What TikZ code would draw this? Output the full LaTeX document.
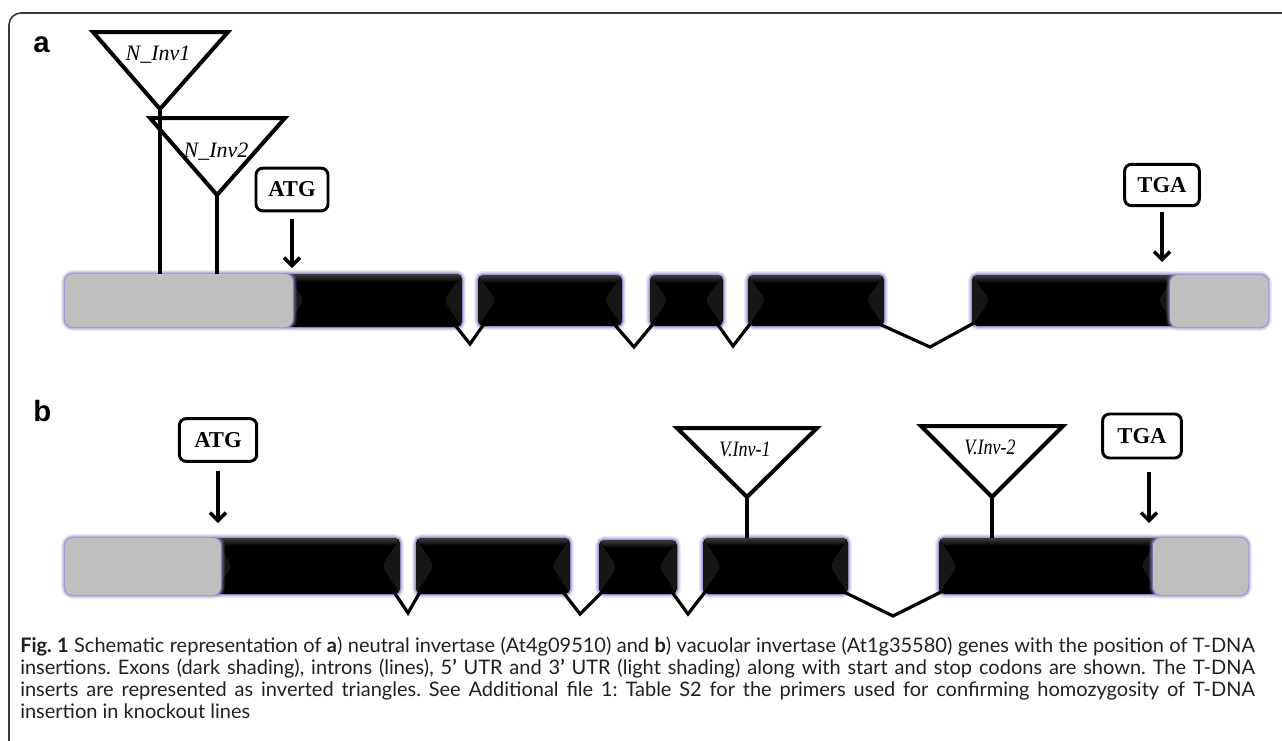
\documentclass[tikz,border=0pt]{standalone}
\usepackage{fontspec}
\setmainfont{Liberation Serif}
\newfontfamily\capfont{Lato}
\newfontfamily\panelfont{Liberation Sans}
\usetikzlibrary{arrows.meta,calc,fit}

\definecolor{utrgray}{HTML}{BFBFBF}
\definecolor{glow}{HTML}{9680CC}
\definecolor{facet}{HTML}{161616}
\definecolor{topsheen}{HTML}{3C3C3C}
\definecolor{framecol}{HTML}{3A3A3A}
\definecolor{captext}{HTML}{231F20}

\tikzset{
  glowing/.style={
    preaction={draw=glow, draw opacity=0.18, line width=6pt},
    preaction={draw=glow, draw opacity=0.3, line width=4pt},
    preaction={draw=glow, draw opacity=0.7, line width=2.2pt}},
  exon/.style={inner sep=0pt, outer sep=0pt, fill=black, rounded corners=4pt, glowing,
    path picture={
      \fill[facet] (path picture bounding box.north west)
        -- ($(path picture bounding box.west)+(18,0)$)
        -- (path picture bounding box.south west) -- cycle;
      \fill[facet] (path picture bounding box.north east)
        -- ($(path picture bounding box.east)+(-18,0)$)
        -- (path picture bounding box.south east) -- cycle;
      \shade[top color=topsheen, bottom color=black]
        (path picture bounding box.north west)
        -- (path picture bounding box.north east)
        -- ($(path picture bounding box.north east)+(-5,8)$)
        -- ($(path picture bounding box.north west)+(5,8)$) -- cycle;
    }},
  utr/.style={inner sep=0pt, outer sep=0pt, fill=utrgray, rounded corners=6pt, glowing},
  intron/.style={line width=2.4pt, line join=miter},
  insert/.style={draw, fill=white, line width=3pt, line join=miter},
  stem/.style={line width=3pt},
  insertlabel/.style={inner sep=0pt, font=\itshape\fontsize{16.5}{18}\selectfont},
  codon/.style={draw, line width=2.2pt, rounded corners=5pt, fill=white,
    inner sep=0pt, font=\bfseries\fontsize{17}{20}\selectfont},
  arr/.style={line width=2.6pt, -{Straight Barb[length=6pt,width=12pt]}},
  panel/.style={inner sep=0pt, anchor=base west,
    font=\panelfont\bfseries\fontsize{22}{26}\selectfont},
  capline/.style={inner sep=0pt, anchor=base west, text=captext,
    font=\capfont\fontsize{15}{18}\selectfont\frenchspacing},
  framestyle/.style={draw=framecol, line width=1.2pt, rounded corners=9pt}
}

\begin{document}
\begin{tikzpicture}[x=0.75pt,y=-0.75pt]
\path[use as bounding box] (0,0) rectangle (1282,740);

% outer frame
\draw[framestyle] (1290,13) -- (9,13) -- (9,750);

% panel letters
\node[panel] (pa) at (33,52) {a};
\node[panel] (pb) at (33,421) {b};

%---------------- gene a ----------------
\node[exon, fit={(286,274) (462,327)}] (a1) {};
\node[exon, fit={(478,275) (622,326)}] (a2) {};
\node[exon, fit={(650,275) (723,326)}] (a3) {};
\node[exon, fit={(748,275) (884,326)}] (a4) {};
\node[exon, fit={(972,275) (1176,326)}] (a5) {};
\node[utr, fit={(65,274) (293,327)}] (a5u) {};
\node[utr, fit={(1170,275) (1268,327)}] (a3u) {};

\coordinate (va1) at (470,344);
\coordinate (va2) at (634,347);
\coordinate (va3) at (733,346);
\coordinate (va4) at (930,347);
\draw[intron] ($(a1.south east)+(-7,-2)$) -- (va1) -- ($(a2.south west)+(6,-2)$);
\draw[intron] ($(a2.south east)+(-8,-2)$) -- (va2) -- ($(a3.south west)+(3,-2)$);
\draw[intron] ($(a3.south east)+(-5,-1)$) -- (va3) -- ($(a4.south west)+(2,-2)$);
\draw[intron] ($(a4.south east)+(-7,-3)$) -- (va4) -- ($(a5.south west)+(2,-3)$);

% T-DNA inserts in gene a
\draw[insert] (93,32) -- (228,32) -- (160,109) -- cycle;
\coordinate (ta1) at (160,109);
\draw[insert] (150,118) -- (285,118) -- (217,195) -- cycle;
\coordinate (ta2) at (217,195);
\draw[stem] (ta1) -- (ta1 |- a5u.north);
\draw[stem] (ta2) -- (ta2 |- a5u.north);
\node[insertlabel] (la1) at (158,55) {N\_Inv1};
\node[insertlabel] (la2) at (216,152) {N\_Inv2};

% start and stop codons of gene a
\node[codon, minimum width=54pt, minimum height=32pt] (atga) at (292,189.5) {ATG};
\coordinate (atgaend) at (292,268);
\draw[arr] ([yshift=-5pt]atga.south) -- (atgaend);
\node[codon, minimum width=56pt, minimum height=31pt] (tgaa) at (1162,185) {TGA};
\coordinate (tgaaend) at (1162,262);
\draw[arr] ([yshift=-4pt]tgaa.south) -- (tgaaend);

%---------------- gene b ----------------
\node[exon, fit={(214,538) (400,594)}] (b1) {};
\node[exon, fit={(416,538) (570,594)}] (b2) {};
\node[exon, fit={(599,540) (677,594)}] (b3) {};
\node[exon, fit={(703,538) (848,594)}] (b4) {};
\node[exon, fit={(939,538) (1159,594)}] (b5) {};
\node[utr, fit={(65,538) (221,595)}] (b5u) {};
\node[utr, fit={(1153,538) (1248,595)}] (b3u) {};

\coordinate (vb1) at (408,613);
\coordinate (vb2) at (580,614);
\coordinate (vb3) at (688,614);
\coordinate (vb4) at (893,616);
\draw[intron] ($(b1.south east)+(-6,-2)$) -- (vb1) -- ($(b2.south west)+(4,-2)$);
\draw[intron] ($(b2.south east)+(-7,-2)$) -- (vb2) -- ($(b3.south west)+(3,-2)$);
\draw[intron] ($(b3.south east)+(-5,-2)$) -- (vb3) -- ($(b4.south west)+(2,-2)$);
\draw[intron] ($(b4.south east)+(-4,-2)$) -- (vb4) -- ($(b5.south west)+(2,-2)$);

% T-DNA inserts in gene b
\draw[insert] (677,428) -- (817,428) -- (747,497) -- cycle;
\coordinate (tb1) at (747,497);
\draw[insert] (921,426) -- (1063,426) -- (992,497) -- cycle;
\coordinate (tb2) at (992,497);
\draw[stem, line width=2.4pt] (tb1) -- (tb1 |- b4.north);
\draw[stem, line width=2.4pt] (tb2) -- (tb2 |- b5.north);
\node[insertlabel] (lb1) at (745,449) {\scalebox{0.82}[1]{V.Inv-1}};
\node[insertlabel] (lb2) at (990,447) {\scalebox{0.82}[1]{V.Inv-2}};

% start and stop codons of gene b
\node[codon, minimum width=58pt, minimum height=32pt] (atgb) at (218,440) {ATG};
\coordinate (atgbend) at (218,523);
\draw[arr] ([yshift=-6pt]atgb.south) -- (atgbend);
\node[codon, minimum width=59pt, minimum height=33pt] (tgab) at (1142,436) {TGA};
\coordinate (tgabend) at (1149,523);
\draw[arr] (tgabend |- 0,472) -- (tgabend);

%---------------- caption ----------------
\node[capline] (cap1) at (20,652) {\makebox[926pt][s]{\textbf{Fig. 1} Schematic representation of \textbf{a}) neutral invertase (At4g09510) and \textbf{b}) vacuolar invertase (At1g35580) genes with the position of T-DNA}};
\node[capline] (cap2) at (20,674) {\makebox[926pt][s]{insertions. Exons (dark shading), introns (lines), 5\textbf{’} UTR and 3\textbf{’} UTR (light shading) along with start and stop codons are shown. The T-DNA}};
\node[capline] (cap3) at (20,696) {\makebox[926pt][s]{inserts are represented as inverted triangles. See Additional file 1: Table S2 for the primers used for confirming homozygosity of T-DNA}};
\node[capline] (cap4) at (20,718) {insertion in knockout lines};
\end{tikzpicture}
\end{document}
